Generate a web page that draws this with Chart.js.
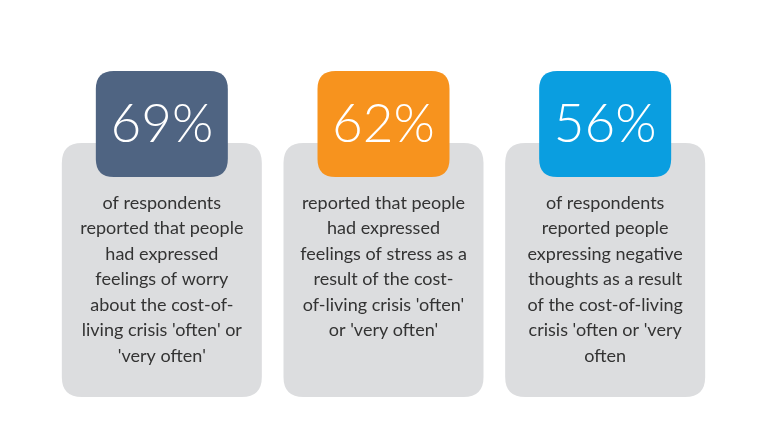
<!DOCTYPE html>
<html>
<head>
<meta charset="utf-8">
<script src="https://cdn.jsdelivr.net/npm/chart.js@4.4.0/dist/chart.umd.min.js"></script>
<style>
  html, body { margin: 0; padding: 0; background: #ffffff; }
  #wrap { width: 768px; height: 443px; }
</style>
</head>
<body>
<div id="wrap"><canvas id="mycanvas" width="768" height="443"></canvas></div>
<script>
// data
var categories = ["worry", "stress", "negative thoughts"];
var percents = [69, 62, 56];
var boxColors = ["#4f6482", "#f7931e", "#0a9ee0"];
var descriptions = [
    ["of respondents", "reported that people", "had expressed", "feelings of worry", "about the cost-of-", "living crisis 'often' or", "'very often'"],
    ["reported that people", "had expressed", "feelings of stress as a", "result of the cost-", "of-living crisis 'often'", "or 'very often'"],
    ["of respondents", "reported people", "expressing negative", "thoughts as a result", "of the cost-of-living", "crisis 'often or 'very", "often"]
];

function roundRect(ctx, x, y, w, h, r){
    ctx.beginPath();
    ctx.moveTo(x + r, y);
    ctx.lineTo(x + w - r, y);
    ctx.quadraticCurveTo(x + w, y, x + w, y + r);
    ctx.lineTo(x + w, y + h - r);
    ctx.quadraticCurveTo(x + w, y + h, x + w - r, y + h);
    ctx.lineTo(x + r, y + h);
    ctx.quadraticCurveTo(x, y + h, x, y + h - r);
    ctx.lineTo(x, y + r);
    ctx.quadraticCurveTo(x, y, x + r, y);
    ctx.closePath();
}

var cardsPlugin = {
    id: 'cards',
    afterDatasetsDraw: function(chart){
        var ctx = chart.ctx;
        var xs = chart.scales.x;
        ctx.save();
        for (var i = 0; i < categories.length; i++){
            var cx = xs.getPixelForValue(i);
            // grey card
            ctx.fillStyle = "#dcdddf";
            roundRect(ctx, cx - 100, 143, 200, 254, 20);
            ctx.fill();
            // coloured box
            ctx.fillStyle = boxColors[i];
            roundRect(ctx, cx - 66, 71, 132, 106, 18);
            ctx.fill();
            // percent
            ctx.fillStyle = "#ffffff";
            ctx.textAlign = "center";
            ctx.textBaseline = "middle";
            ctx.font = "300 53px Lato";
            ctx.fillText(percents[i] + "%", cx, 125);
            // description
            ctx.fillStyle = "#333333";
            ctx.font = "18px Lato";
            var lines = descriptions[i];
            for (var j = 0; j < lines.length; j++){
                ctx.fillText(lines[j], cx, 203 + j * 25.5);
            }
        }
        ctx.restore();
    }
};

var chrt = document.getElementById("mycanvas").getContext("2d");
new Chart(chrt, {
    type: 'bar',
    data: {
        labels: categories,
        datasets: [{
            label: "Share of respondents",
            data: percents,
            backgroundColor: "rgba(0,0,0,0)"
        }]
    },
    options: {
        responsive: false,
        animation: false,
        layout: { padding: { left: 51, right: 52, top: 0, bottom: 0 } },
        plugins: { legend: { display: false }, tooltip: { enabled: false } },
        scales: {
            x: { display: false, offset: true },
            y: { display: false, min: 0, max: 100 }
        }
    },
    plugins: [cardsPlugin]
});
</script>
</body>
</html>
